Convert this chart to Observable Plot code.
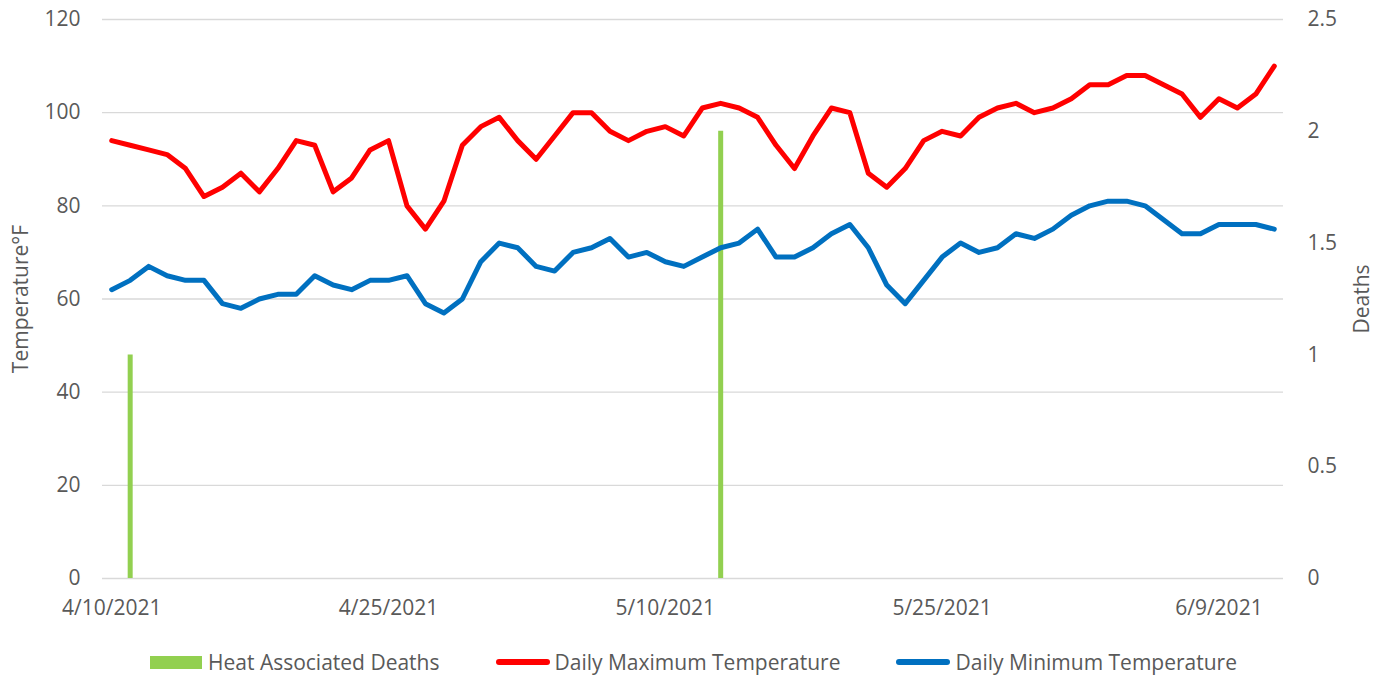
<!DOCTYPE html>
<html>
<head>
<meta charset="utf-8">
<script src="https://cdn.jsdelivr.net/npm/d3@7"></script>
<script src="https://cdn.jsdelivr.net/npm/@observablehq/plot@0.6"></script>
<style>
  html, body { margin: 0; padding: 0; background: #fff; }
  body { width: 1387px; height: 677px; position: relative; overflow: hidden; font-family: "Open Sans", sans-serif; }
  #legend { position: absolute; left: 0; top: 648px; width: 1387px; height: 28px; display: flex; justify-content: center; align-items: center; font-size: 21px; color: #595959; }
  .item { display: flex; align-items: center; }
  .item + .item { margin-left: 56px; }
  .sw-bar { width: 52px; height: 13px; margin-right: 6px; }
  .sw-line { width: 54px; height: 6px; border-radius: 3px; margin-right: 5px; }
</style>
</head>
<body>
<div id="chart"></div>
<div id="legend"></div>
<script>
// ---- data ----
const startDate = "2021-04-10";
const tMax = [94,93,92,91,88,82,84,87,83,88,94,93,83,86,92,94,80,75,81,93,97,99,94,90,95,100,100,96,94,96,97,95,101,102,101,99,93,88,95,101,100,87,84,88,94,96,95,99,101,102,100,101,103,106,106,108,108,106,104,99,103,101,104,110];
const tMin = [62,64,67,65,64,64,59,58,60,61,61,65,63,62,64,64,65,59,57,60,68,72,71,67,66,70,71,73,69,70,68,67,69,71,72,75,69,69,71,74,76,71,63,59,64,69,72,70,71,74,73,75,78,80,81,81,80,77,74,74,76,76,76,75];
const deathDates = ["2021-04-11", "2021-05-13"];
const deathCounts = [1, 2];
const xTickDates = ["2021-04-10", "2021-04-25", "2021-05-10", "2021-05-25", "2021-06-09"];
const tempTicks = [0, 20, 40, 60, 80, 100, 120];
const deathTicks = [0, 0.5, 1, 1.5, 2, 2.5];
const seriesNames = ["Heat Associated Deaths", "Daily Maximum Temperature", "Daily Minimum Temperature"];
const colors = ["#92D050", "#FF0000", "#0070C0"];

// ---- build ----
const start = new Date(startDate + "T00:00:00Z");
const dates = tMax.map((_, i) => d3.utcDay.offset(start, i));
const maxData = dates.map((d, i) => ({date: d, v: tMax[i]}));
const minData = dates.map((d, i) => ({date: d, v: tMin[i]}));
const deathScale = 120 / 2.5; // right axis maps 0..2.5 onto 0..120
const deathData = deathDates.map((d, i) => ({date: new Date(d + "T00:00:00Z"), v: deathCounts[i]}));
const xDomain = [d3.utcHour.offset(start, -12), d3.utcHour.offset(dates[dates.length - 1], 12)];
const fmt = d => `${d.getUTCMonth() + 1}/${d.getUTCDate()}/${d.getUTCFullYear()}`;
const textColor = "#595959";

const chart = Plot.plot({
  width: 1387,
  height: 640,
  marginTop: 19,
  marginBottom: 62,
  marginLeft: 102,
  marginRight: 104,
  style: {fontFamily: "Open Sans, sans-serif", fontSize: "21px", color: textColor, background: "#fff"},
  x: {type: "utc", domain: xDomain},
  y: {domain: [0, 120]},
  marks: [
    Plot.gridY(tempTicks, {stroke: "#D9D9D9", strokeOpacity: 1, strokeWidth: 1.3}),
    Plot.axisY(tempTicks, {anchor: "left", tickSize: 0, tickPadding: 22, fontSize: 21, fill: textColor,
      label: "Temperature°F", labelAnchor: "center", labelOffset: 89, labelArrow: "none"}),
    Plot.axisY(deathTicks.map(t => t * deathScale), {anchor: "right", tickSize: 0, tickPadding: 24, fontSize: 21, fill: textColor,
      tickFormat: d => String(d / deathScale), label: "Deaths", labelAnchor: "center", labelOffset: 85, labelArrow: "none"}),
    Plot.axisX(xTickDates.map(d => new Date(d + "T00:00:00Z")), {anchor: "bottom", tickSize: 0, tickPadding: 22, fontSize: 21, fill: textColor,
      tickFormat: fmt, label: null}),
    Plot.ruleX(deathData, {x: "date", y1: 0, y2: d => d.v * deathScale, stroke: colors[0], strokeWidth: 5}),
    Plot.line(maxData, {x: "date", y: "v", stroke: colors[1], strokeWidth: 5, strokeLinejoin: "round", strokeLinecap: "round"}),
    Plot.line(minData, {x: "date", y: "v", stroke: colors[2], strokeWidth: 5, strokeLinejoin: "round", strokeLinecap: "round"})
  ]
});
document.getElementById("chart").appendChild(chart);

// ---- legend ----
const legend = d3.select("#legend");
seriesNames.forEach((name, i) => {
  const item = legend.append("div").attr("class", "item");
  item.append("div").attr("class", i === 0 ? "sw-bar" : "sw-line").style("background", colors[i]);
  item.append("span").text(name);
});
</script>
</body>
</html>
